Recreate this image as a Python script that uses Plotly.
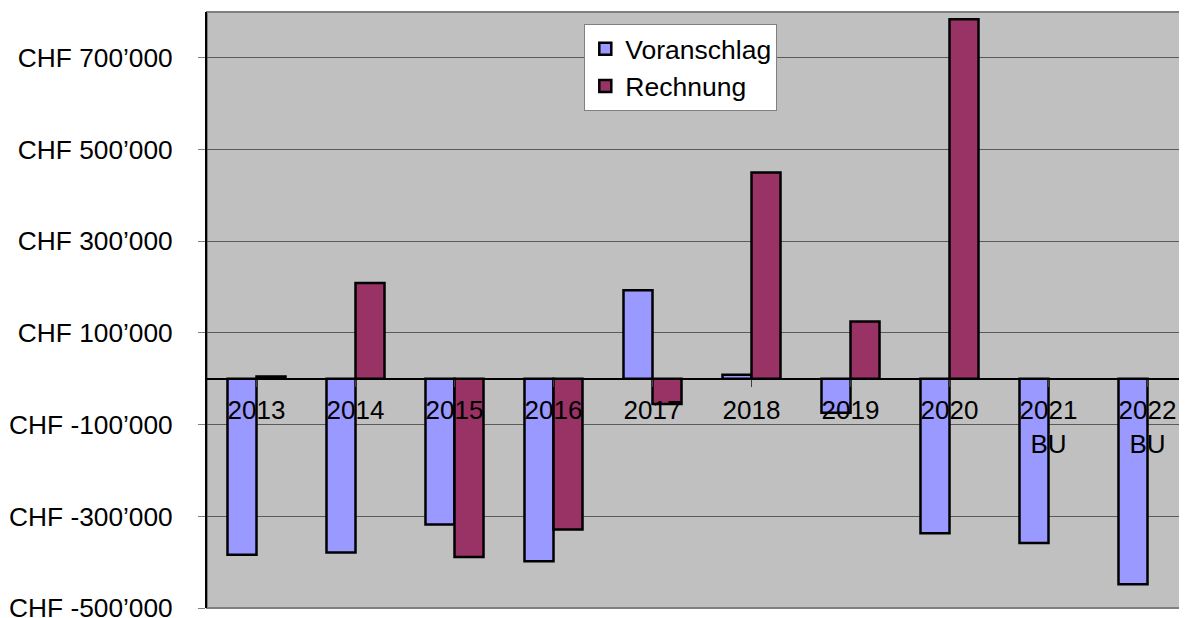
import plotly.graph_objects as go

categories = ["2013", "2014", "2015", "2016", "2017", "2018", "2019", "2020", "2021<br>BU", "2022<br>BU"]
voranschlag = [-384000, -379000, -318000, -398000, 193000, 9000, -74000, -337000, -358000, -448000]
rechnung = [5000, 209000, -389000, -329000, -55000, 450000, 125000, 784000, None, None]
y_ticks = [-500000, -300000, -100000, 100000, 300000, 500000, 700000]
y_ticklabels = ["CHF -500’000", "CHF -300’000", "CHF -100’000", "CHF 100’000",
                "CHF 300’000", "CHF 500’000", "CHF 700’000"]
y_min, y_max = -500000, 800000

FONT = "Liberation Sans, Arial, sans-serif"
idx = list(range(len(categories)))

fig = go.Figure()
fig.add_trace(go.Bar(name="Voranschlag", x=idx, y=voranschlag,
                     marker=dict(color="#9999FF", line=dict(color="black", width=2.5))))
fig.add_trace(go.Bar(name="Rechnung", x=idx, y=rechnung,
                     marker=dict(color="#993366", line=dict(color="black", width=2.5))))

fig.update_layout(
    width=1179, height=610,
    margin=dict(l=199, r=0, t=4, b=10, autoexpand=False),
    paper_bgcolor="white",
    plot_bgcolor="#C0C0C0",
    barmode="group",
    bargap=0.414,
    bargroupgap=0,
    font=dict(family=FONT, size=26, color="black"),
    legend=dict(
        x=0.385, y=0.98, xanchor="left", yanchor="top",
        bgcolor="white", bordercolor="#808080", borderwidth=1,
        font=dict(family=FONT, size=26.5, color="black"),
        traceorder="normal",
        itemwidth=30,
    ),
    xaxis=dict(
        range=[-0.5, 9.399],
        tickmode="array", tickvals=idx, ticktext=categories,
        anchor="free", position=(0 - y_min) / (y_max - y_min),
        showline=True, linecolor="black", linewidth=1.5,
        ticks="outside", ticklen=7, tickcolor="#404040", tickwidth=1,
        showgrid=False, zeroline=False,
        tickfont=dict(family=FONT, size=26, color="black"),
        ticklabelstandoff=1,
        automargin=False,
    ),
    yaxis=dict(
        range=[y_min, y_max],
        tickmode="array", tickvals=y_ticks, ticktext=y_ticklabels,
        showgrid=True, gridcolor="#5a5a5a", gridwidth=1,
        zeroline=False,
        showline=True, linecolor="black", linewidth=2,
        ticks="outside", ticklen=7, tickcolor="#808080", tickwidth=1,
        tickfont=dict(family=FONT, size=26.3, color="black"),
        ticklabelstandoff=20,
        ticklabeloverflow="allow",
        automargin=False,
    ),
    shapes=[dict(type="rect", xref="paper", yref="paper", x0=0, y0=0, x1=1.01, y1=1,
                 line=dict(color="#808080", width=2), layer="below")],
)

fig.write_html("out.html")
